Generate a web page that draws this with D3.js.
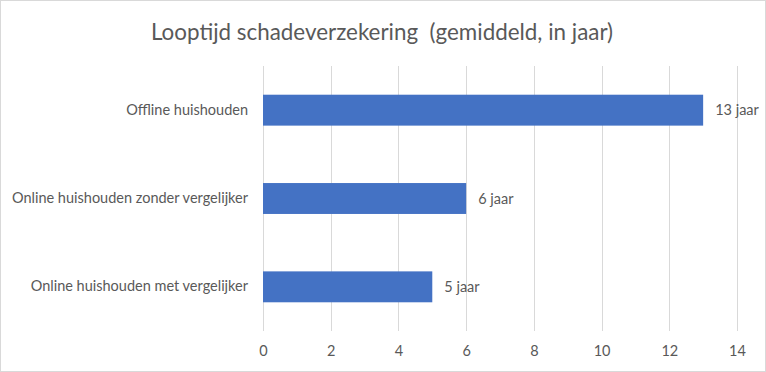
<!DOCTYPE html>
<html lang="nl">
<head>
<meta charset="UTF-8">
<title>Looptijd schadeverzekering</title>
<script src="https://d3js.org/d3.v7.min.js"></script>
<style>
    body { margin: 0; background: #fff; font-family: Lato, "Open Sans", sans-serif; }
    svg { display: block; }
</style>
</head>
<body>
<div class="viz"></div>
<script>
    const categories = ["Offline huishouden", "Online huishouden zonder vergelijker", "Online huishouden met vergelijker"];
    const values = [13, 6, 5];
    const valueLabels = ["13 jaar", "6 jaar", "5 jaar"];
    const xTicks = [0, 2, 4, 6, 8, 10, 12, 14];
    const title = "Looptijd schadeverzekering\u00a0 (gemiddeld, in jaar)";

    const width = 766, height = 372;
    const margin = { top: 66, right: 29, bottom: 41, left: 263 };
    const textColor = "#595959";

    const svg = d3.select(".viz").append("svg")
        .attr("width", width)
        .attr("height", height);

    svg.append("rect")
        .attr("x", 0.5).attr("y", 0.5)
        .attr("width", width - 1).attr("height", height - 1)
        .attr("fill", "#fff")
        .attr("stroke", "#d9d9d9");

    const x = d3.scaleLinear()
        .domain([0, 14])
        .range([margin.left, width - margin.right]);

    const y = d3.scaleBand()
        .domain(categories)
        .range([margin.top, height - margin.bottom])
        .paddingInner(0.65)
        .paddingOuter(0.325);

    // gridlines
    svg.append("g")
        .selectAll("line")
        .data(xTicks)
        .join("line")
        .attr("x1", d => Math.round(x(d)) + 0.5)
        .attr("x2", d => Math.round(x(d)) + 0.5)
        .attr("y1", margin.top)
        .attr("y2", height - margin.bottom)
        .attr("stroke", "#d9d9d9")
        .attr("stroke-width", 1);

    // x tick labels
    const xAxis = d3.axisBottom(x).tickValues(xTicks).tickSize(0).tickPadding(15);
    const gx = svg.append("g")
        .attr("transform", `translate(0,${height - margin.bottom})`)
        .call(xAxis);
    gx.select(".domain").remove();
    gx.selectAll("text")
        .attr("fill", textColor)
        .style("font-family", "Lato, sans-serif")
        .style("font-size", "14.5px");

    // y category labels
    const yAxis = d3.axisLeft(y).tickSize(0).tickPadding(15);
    const gy = svg.append("g")
        .attr("transform", `translate(${margin.left},0)`)
        .call(yAxis);
    gy.select(".domain").remove();
    gy.selectAll("text")
        .attr("fill", textColor)
        .style("font-family", "Lato, sans-serif")
        .style("font-size", "14.5px");

    // bars
    svg.append("g")
        .selectAll("rect")
        .data(values)
        .join("rect")
        .attr("x", x(0))
        .attr("y", (d, i) => y(categories[i]))
        .attr("width", d => x(d) - x(0))
        .attr("height", y.bandwidth())
        .attr("fill", "#4472c4");

    // value labels
    svg.append("g")
        .selectAll("text")
        .data(values)
        .join("text")
        .attr("x", d => x(d) + 12)
        .attr("y", (d, i) => y(categories[i]) + y.bandwidth() / 2)
        .attr("dy", "0.35em")
        .attr("fill", textColor)
        .style("font-size", "14.5px")
        .text((d, i) => valueLabels[i]);

    // title
    svg.append("text")
        .attr("x", width / 2 - 1)
        .attr("y", 40)
        .attr("text-anchor", "middle")
        .attr("fill", textColor)
        .style("font-size", "22.4px")
        .text(title);
</script>
</body>
</html>
